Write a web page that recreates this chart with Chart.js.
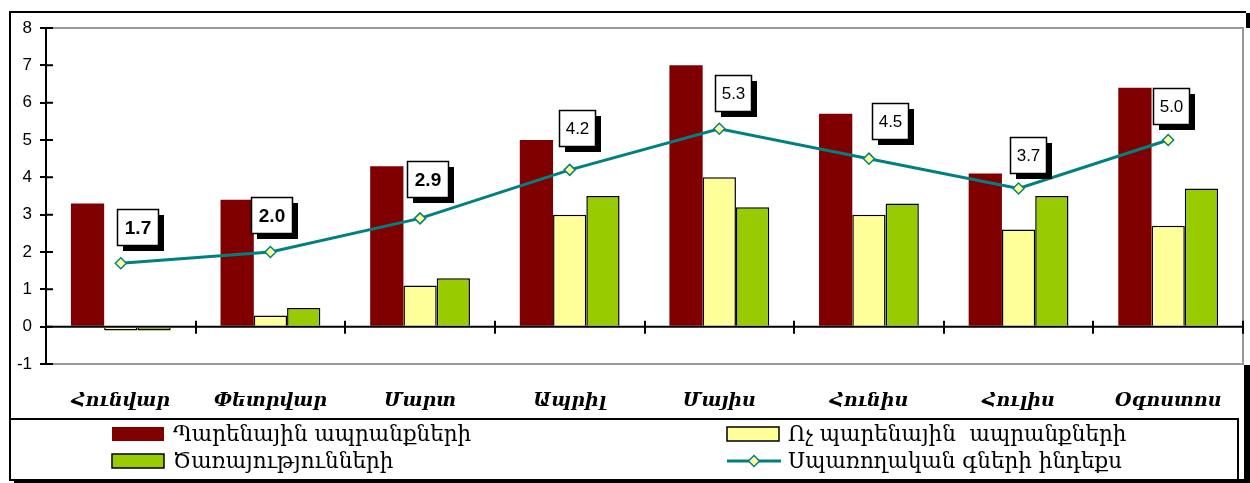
<!DOCTYPE html>
<html><head><meta charset="utf-8">
<script src="https://cdn.jsdelivr.net/npm/chart.js@4/dist/chart.umd.min.js"></script>
<style>html,body{margin:0;padding:0;background:#fff;} canvas{display:block;}</style>
</head><body>
<canvas id="c" width="1250" height="483"></canvas>
<script>
// ---- data ----
const months = ['Հունվար','Փետրվար','Մարտ','Ապրիլ','Մայիս','Հունիս','Հուլիս','Օգոստոս'];
const foodGoods = [3.3, 3.4, 4.3, 5.0, 7.0, 5.7, 4.1, 6.4];
const nonFoodGoods = [-0.1, 0.3, 1.1, 3.0, 4.0, 3.0, 2.6, 2.7];
const services = [-0.1, 0.5, 1.3, 3.5, 3.2, 3.3, 3.5, 3.7];
const cpi = [1.7, 2.0, 2.9, 4.2, 5.3, 4.5, 3.7, 5.0];
const yTicks = [-1, 0, 1, 2, 3, 4, 5, 6, 7, 8];
const seriesNames = ['Պարենային ապրանքների', 'Ոչ պարենային  ապրանքների', 'Ծառայությունների', 'Սպառողական գների ինդեքս'];

// ---- label placement / style (relative to computed points) ----
const labelNudgeX = [17, 1, 7, 7, 13.5, 21.5, 9.5, 2.5];
const labelNudgeY = [-36.5, -37.5, -39, -42, -36, -38, -34, -34];
const labelBold = [true, true, true, false, false, false, false, false];

const COLORS = { food: '#800000', nonFood: '#FFFF99', services: '#99CC00', cpi: '#008080' };

const deco = {
  id: 'deco',
  beforeDraw(chart) {
    const c = chart.ctx; c.save(); c.fillStyle = '#fff'; c.fillRect(0, 0, chart.width, chart.height); c.restore();
  },
  beforeDatasetsDraw(chart) {
    const { ctx: c, chartArea: a } = chart;
    c.save(); c.strokeStyle = '#999'; c.lineWidth = 2;
    c.beginPath(); c.moveTo(a.left, a.top); c.lineTo(a.right, a.top); c.lineTo(a.right, a.bottom); c.lineTo(a.left, a.bottom); c.stroke();
    c.restore();
  },
  afterDatasetsDraw(chart) {
    const { ctx: c, chartArea: a, scales: { x, y } } = chart;
    c.save();
    c.strokeStyle = '#000'; c.lineWidth = 2;
    const y0 = y.getPixelForValue(0);
    c.beginPath(); c.moveTo(a.left, y0); c.lineTo(a.right, y0); c.stroke();
    const step = x.getPixelForTick(1) - x.getPixelForTick(0);
    c.beginPath();
    for (let i = 0; i <= months.length; i++) {
      const px = Math.round(x.getPixelForTick(0) - step / 2 + i * step);
      c.moveTo(px, y0 - 6); c.lineTo(px, y0 + 7);
    }
    c.stroke();
    c.beginPath();
    yTicks.forEach(v => { const py = y.getPixelForValue(v); c.moveTo(a.left, py); c.lineTo(a.left + 7, py); });
    c.stroke();
    const meta = chart.getDatasetMeta(3);
    meta.data.forEach((pt, i) => {
      const bold = labelBold[i];
      c.font = (bold ? 'bold 19px' : '17px') + ' "Liberation Sans", Arial, sans-serif';
      const txt = cpi[i].toFixed(1);
      const tw = c.measureText(txt).width;
      const w = Math.round(tw + (bold ? 15 : 12)), h = 36;
      const cx = pt.x + labelNudgeX[i], cy = pt.y + labelNudgeY[i];
      const bx = Math.round(cx - w / 2), by = Math.round(cy - h / 2);
      c.fillStyle = '#000'; c.fillRect(bx + 6, by + 6, w, h);
      c.fillStyle = '#fff'; c.fillRect(bx, by, w, h);
      c.strokeStyle = '#000'; c.lineWidth = 1.5; c.strokeRect(bx + 0.5, by + 0.5, w, h);
      c.fillStyle = '#000'; c.textAlign = 'center'; c.textBaseline = 'middle';
      c.fillText(txt, bx + w / 2 + 0.5, by + h / 2 + 1.5);
    });
    c.restore();
  },
  afterDraw(chart) {
    const c = chart.ctx;
    const ds = chart.data.datasets;
    c.save();
    c.strokeStyle = '#000'; c.lineWidth = 2;
    c.beginPath(); c.moveTo(1246, 12); c.lineTo(10, 12); c.lineTo(10, 480); c.lineTo(1246, 480); c.stroke();
    c.fillStyle = '#000';
    c.fillRect(1246, 13, 4, 15);
    c.fillRect(1244, 365, 6, 118);
    c.fillRect(14, 480, 1236, 3);
    c.beginPath(); c.moveTo(10, 419); c.lineTo(1238, 419); c.lineTo(1238, 480); c.stroke();
    const colX = [112, 727], rowY = [434, 461];
    const items = [[0, 0, 0], [1, 1, 0], [2, 0, 1], [3, 1, 1]];
    c.font = '21.5px "DejaVu Serif", serif';
    c.textAlign = 'left'; c.textBaseline = 'middle';
    items.forEach(([d, col, row]) => {
      const sx = colX[col], sy = rowY[row];
      const set = ds[d];
      if (set.type === 'line') {
        c.strokeStyle = set.borderColor; c.lineWidth = 3;
        c.beginPath(); c.moveTo(sx, sy); c.lineTo(sx + 54, sy); c.stroke();
        c.beginPath(); c.moveTo(sx + 27, sy - 5.5); c.lineTo(sx + 32.5, sy); c.lineTo(sx + 27, sy + 5.5); c.lineTo(sx + 21.5, sy); c.closePath();
        c.fillStyle = set.pointBackgroundColor; c.fill();
        c.lineWidth = 1.5; c.strokeStyle = set.pointBorderColor; c.stroke();
      } else {
        c.fillStyle = set.backgroundColor; c.fillRect(sx, sy - 7, 52, 14);
        if (set.borderWidth) { c.strokeStyle = '#000'; c.lineWidth = 1.5; c.strokeRect(sx, sy - 7, 52, 14); }
      }
      c.fillStyle = '#000';
      c.fillText(set.label, sx + 61, sy + 1);
    });
    c.restore();
  }
};

new Chart(document.getElementById('c'), {
  data: {
    labels: months,
    datasets: [
      { type: 'bar', label: seriesNames[0], data: foodGoods, backgroundColor: COLORS.food, borderWidth: 0, order: 1 },
      { type: 'bar', label: seriesNames[1], data: nonFoodGoods, backgroundColor: COLORS.nonFood, borderColor: '#000', borderWidth: 1.5, order: 1 },
      { type: 'bar', label: seriesNames[2], data: services, backgroundColor: COLORS.services, borderColor: '#000', borderWidth: 1.5, order: 1 },
      { type: 'line', label: seriesNames[3], data: cpi, borderColor: COLORS.cpi, borderWidth: 3, tension: 0, fill: false,
        pointStyle: 'rectRot', pointRadius: 5.5, pointBackgroundColor: COLORS.nonFood, pointBorderColor: COLORS.cpi, pointBorderWidth: 1.5, order: 0 }
    ]
  },
  options: {
    responsive: false,
    animation: false,
    events: [],
    datasets: { bar: { categoryPercentage: 0.667, barPercentage: 1.0 } },
    layout: { padding: { top: 28, right: 2, left: 0, bottom: 0 } },
    plugins: { legend: { display: false }, tooltip: { enabled: false } },
    scales: {
      x: {
        type: 'category', offset: true,
        grid: { display: false, drawTicks: false },
        border: { display: false },
        ticks: { font: { family: 'DejaVu Serif', size: 19, style: 'italic', weight: 'bold' }, color: '#000', padding: 26, maxRotation: 0, autoSkip: false },
        afterFit(s) { s.height = 119; }
      },
      y: {
        min: -1, max: 8,
        afterBuildTicks(s) { s.ticks = yTicks.map(v => ({ value: v })); },
        grid: { drawOnChartArea: false, color: '#000', lineWidth: 2, tickLength: 6 },
        border: { color: '#000', width: 2 },
        ticks: { font: { family: 'Liberation Sans', size: 17 }, color: '#000', padding: 8 },
        afterFit(s) { s.width = 46; }
      }
    }
  },
  plugins: [deco]
});
</script>
</body></html>
